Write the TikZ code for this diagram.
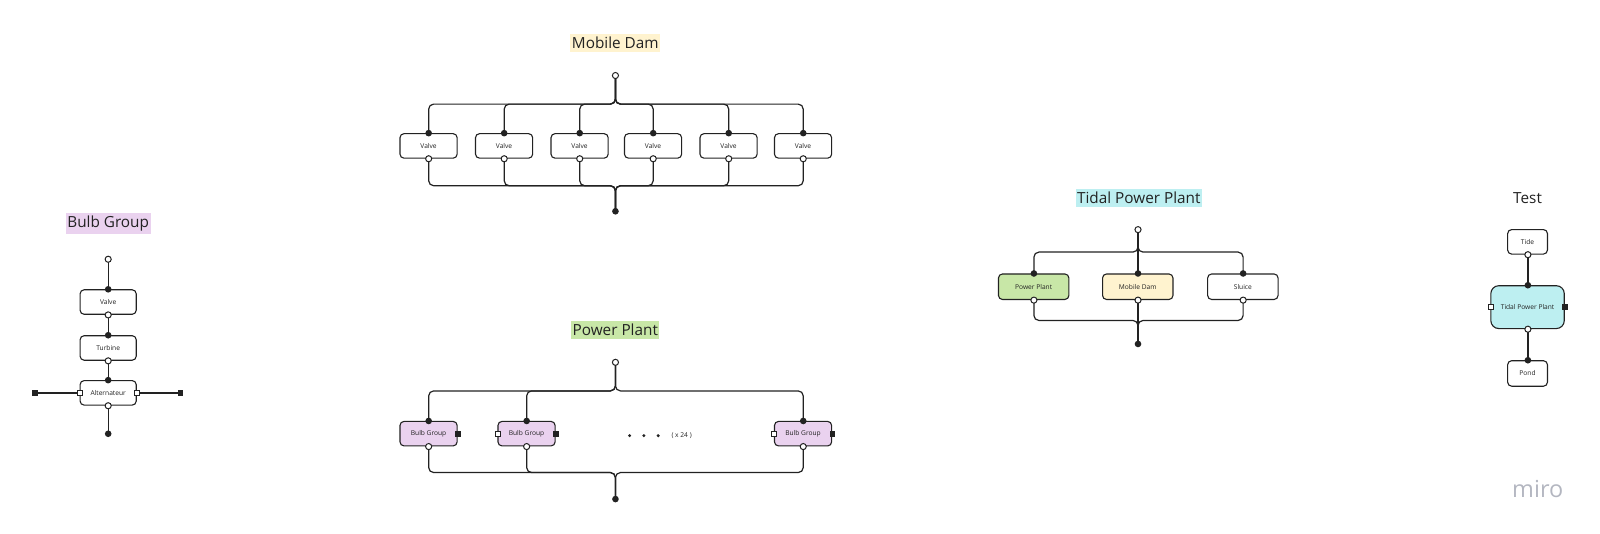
\documentclass[tikz,border=0pt]{standalone}
\usepackage{fontspec}
\setmainfont{Open Sans}
\usepackage{xcolor}
\usetikzlibrary{positioning,calc}

\definecolor{bulbpink}{HTML}{EAD2EF}
\definecolor{damyellow}{HTML}{FFF3CF}
\definecolor{plantgreen}{HTML}{C8E7A7}
\definecolor{tidalcyan}{HTML}{BDEFF1}
\definecolor{mirogray}{HTML}{B3B6C0}
\definecolor{ink}{HTML}{222222}

\tikzset{
    wire/.style={line width=1.2pt, draw=ink, rounded corners=5pt},
    block/.style={draw=ink, line width=1.1pt, rounded corners=4pt, fill=white,
        minimum width=56pt, minimum height=24pt, inner sep=0pt,
        text=ink, font=\fontsize{6.5}{7}\selectfont},
    title/.style={inner xsep=1.5pt, inner ysep=3pt, text=ink,
        font=\fontsize{15}{17}\selectfont},
    fpin/.style={circle, fill=ink, inner sep=0pt, minimum size=6.5pt},
    opin/.style={circle, draw=ink, line width=1pt, fill=white, inner sep=0pt, minimum size=6pt},
    fsq/.style={rectangle, fill=ink, inner sep=0pt, minimum size=5.5pt},
    osq/.style={rectangle, draw=ink, line width=0.9pt, fill=white, inner sep=0pt, minimum size=5pt},
}

\begin{document}
\begin{tikzpicture}[x=1pt, y=-1pt]
    \useasboundingbox (0,0) rectangle (1600,534);
    \begin{scope}[scale=1.0204, transform shape]

    % Bulb Group
    \node[title, fill=bulbpink] (bgtitle) at (106,219) {Bulb Group};
    \node[block, minimum width=55pt] (bgvalve) at (106,296) {Valve};
    \node[block, minimum width=55pt] (bgturb) at (106,341) {Turbine};
    \node[block, minimum width=55pt] (bgalt) at (106,385) {Alternateur};
    \coordinate (bgin) at (106,254);
    \coordinate (bgout) at (106,425);
    \coordinate (bgleft) at (34,385);
    \coordinate (bgright) at (177,385);
    \draw[wire] (bgin) -- (bgvalve.north);
    \draw[wire] (bgvalve.south) -- (bgturb.north);
    \draw[wire] (bgturb.south) -- (bgalt.north);
    \draw[wire] (bgalt.south) -- (bgout);
    \draw[wire] (bgleft) -- (bgalt.west);
    \draw[wire] (bgalt.east) -- (bgright);
    \node[opin] at (bgin) {};
    \node[fpin] at (bgout) {};
    \node[fsq] at (bgleft) {};
    \node[fsq] at (bgright) {};
    \node[osq] at (bgalt.west) {};
    \node[osq] at (bgalt.east) {};
    \foreach \b in {bgvalve,bgturb,bgalt} {
        \node[fpin] at (\b.north) {};
        \node[opin] at (\b.south) {};
    }

    % Mobile Dam
    \node[title, fill=damyellow] (mdtitle) at (603,42) {Mobile Dam};
    \foreach \x [count=\i] in {420,494,568,640,714,787}
        \node[block] (mdv\i) at (\x,143) {Valve};
    \coordinate (mdin) at (603,74);
    \coordinate (mdtop) at (603,102);
    \coordinate (mdbot) at (603,182);
    \coordinate (mdout) at (603,207);
    \foreach \i in {1,...,6} {
        \draw[wire] (mdin) -- (mdtop) -| (mdv\i.north);
        \draw[wire] (mdv\i.south) |- (mdbot) -- (mdout);
    }
    \node[opin] at (mdin) {};
    \node[fpin] at (mdout) {};
    \foreach \i in {1,...,6} {
        \node[fpin] at (mdv\i.north) {};
        \node[opin] at (mdv\i.south) {};
    }

    % Power Plant
    \node[title, fill=plantgreen] (pptitle) at (603,323) {Power Plant};
    \node[block, fill=bulbpink] (ppb1) at (420,425) {Bulb Group};
    \node[block, fill=bulbpink] (ppb2) at (516,425) {Bulb Group};
    \node[block, fill=bulbpink] (ppb3) at (787,425) {Bulb Group};
    \coordinate (ppin) at (603,355);
    \coordinate (pptop) at (603,383);
    \coordinate (ppbot) at (603,463);
    \coordinate (ppout) at (603,489);
    \foreach \i in {1,2,3} {
        \draw[wire] (ppin) -- (pptop) -| (ppb\i.north);
        \draw[wire] (ppb\i.south) |- (ppbot) -- (ppout);
    }
    \node[opin] at (ppin) {};
    \node[fpin] at (ppout) {};
    \foreach \i in {1,2,3} {
        \node[fpin] at (ppb\i.north) {};
        \node[opin] at (ppb\i.south) {};
        \node[fsq] at (ppb\i.east) {};
    }
    \node[osq] at (ppb2.west) {};
    \node[osq] at (ppb3.west) {};
    \foreach \x in {617,631,645}
        \fill[ink] (\x,427) circle (1.6pt);
    \node[text=ink, font=\fontsize{6.5}{7}\selectfont] (ppcount) at (668,427) {( x 24 )};

    % Tidal Power Plant
    \node[title, fill=tidalcyan] (tptitle) at (1116,194) {Tidal Power Plant};
    \node[block, minimum width=69pt, minimum height=25pt, fill=plantgreen] (tpplant) at (1013,281) {Power Plant};
    \node[block, minimum width=69pt, minimum height=25pt, fill=damyellow] (tpdam) at (1115,281) {Mobile Dam};
    \node[block, minimum width=69pt, minimum height=25pt] (tpsluice) at (1218,281) {Sluice};
    \coordinate (tpin) at (1115,225);
    \coordinate (tptop) at (1115,247);
    \coordinate (tpbot) at (1115,314);
    \coordinate (tpout) at (1115,337);
    \draw[wire] (tpin) -- (tpdam.north);
    \draw[wire] (tpdam.south) -- (tpout);
    \foreach \b in {tpplant,tpsluice} {
        \draw[wire] (tpin) -- (tptop) -| (\b.north);
        \draw[wire] (\b.south) |- (tpbot) -- (tpout);
    }
    \node[opin] at (tpin) {};
    \node[fpin] at (tpout) {};
    \foreach \b in {tpplant,tpdam,tpsluice} {
        \node[fpin] at (\b.north) {};
        \node[opin] at (\b.south) {};
    }

    % Test
    \node[title] (tsttitle) at (1497,194) {Test};
    \node[block, minimum width=39pt] (tsttide) at (1497,237) {Tide};
    \node[block, minimum width=72pt, minimum height=42pt, rounded corners=8pt,
        fill=tidalcyan] (tsttpp) at (1497,301) {Tidal Power Plant};
    \node[block, minimum width=39pt, minimum height=25pt] (tstpond) at (1497,366) {Pond};
    \draw[wire] (tsttide.south) -- (tsttpp.north);
    \draw[wire] (tsttpp.south) -- (tstpond.north);
    \node[opin] at (tsttide.south) {};
    \node[fpin] at (tsttpp.north) {};
    \node[opin] at (tsttpp.south) {};
    \node[fpin] at (tstpond.north) {};
    \node[osq] at (tsttpp.west) {};
    \node[fsq] at (tsttpp.east) {};

    % logo
    \node[text=mirogray, font=\fontsize{23}{24}\selectfont] (miro) at (1507,479) {miro};
    \end{scope}
\end{tikzpicture}
\end{document}
